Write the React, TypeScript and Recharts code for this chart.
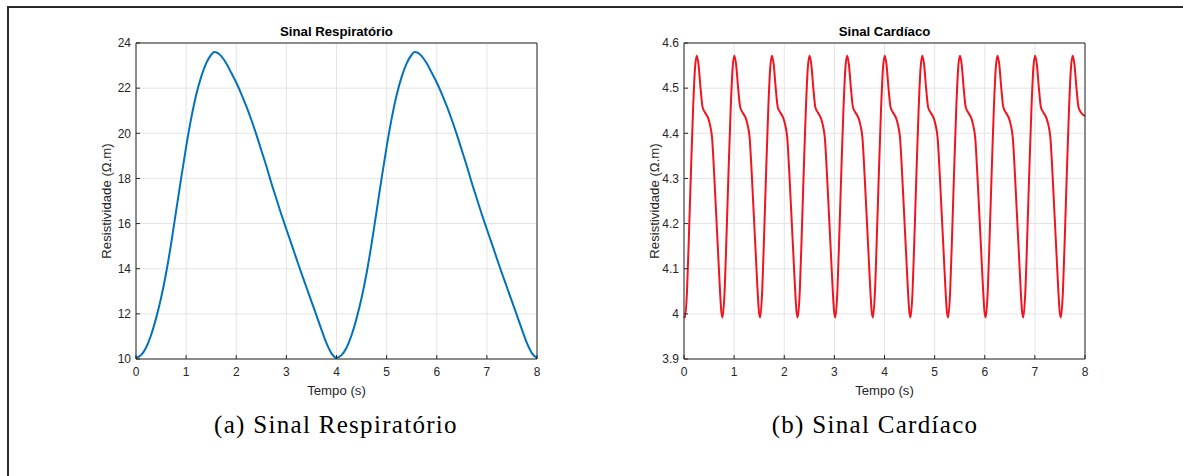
import { LineChart, Line, XAxis, YAxis, CartesianGrid } from 'recharts';

// tick labels
const timeTicks = [0, 1, 2, 3, 4, 5, 6, 7, 8];
const respTicks = [10, 12, 14, 16, 18, 20, 22, 24];
const cardTicks = [3.9, 4, 4.1, 4.2, 4.3, 4.4, 4.5, 4.6];

// respiratory signal (s, Ω.m)
const respTime = [
  0, 0.1, 0.2, 0.3, 0.4, 0.5, 0.6, 0.7, 0.8, 0.9, 1.0, 1.1, 1.2, 1.3, 1.4, 1.5, 1.56,
  1.7, 1.8, 1.9, 2.0, 2.1, 2.2, 2.3, 2.4, 2.5, 2.6, 2.7, 2.8, 2.9, 3.0, 3.1, 3.2, 3.3,
  3.4, 3.5, 3.6, 3.7, 3.8, 3.9,
  4.0, 4.1, 4.2, 4.3, 4.4, 4.5, 4.6, 4.7, 4.8, 4.9, 5.0, 5.1, 5.2, 5.3, 5.4, 5.5, 5.56,
  5.7, 5.8, 5.9, 6.0, 6.1, 6.2, 6.3, 6.4, 6.5, 6.6, 6.7, 6.8, 6.9, 7.0, 7.1, 7.2, 7.3,
  7.4, 7.5, 7.6, 7.7, 7.8, 7.9, 8.0,
];
const respValue = [
  10.05, 10.17, 10.5, 11.05, 11.8, 12.7, 13.8, 15.1, 16.55, 18.0, 19.4, 20.65, 21.7, 22.5, 23.1, 23.48, 23.6,
  23.42, 23.1, 22.68, 22.25, 21.75, 21.2, 20.6, 19.95, 19.25, 18.55, 17.8, 17.1, 16.4, 15.75, 15.1, 14.45, 13.8,
  13.18, 12.55, 11.93, 11.3, 10.7, 10.25,
  10.05, 10.17, 10.5, 11.05, 11.8, 12.7, 13.8, 15.1, 16.55, 18.0, 19.4, 20.65, 21.7, 22.5, 23.1, 23.48, 23.6,
  23.42, 23.1, 22.68, 22.25, 21.75, 21.2, 20.6, 19.95, 19.25, 18.55, 17.8, 17.1, 16.4, 15.75, 15.1, 14.45, 13.8,
  13.18, 12.55, 11.93, 11.3, 10.7, 10.25, 10.05,
];

// cardiac signal (s, Ω.m), one line per beat
const cardiacTime = [
  0,
  0.02, 0.06, 0.10, 0.14, 0.18, 0.22, 0.255, 0.29, 0.33, 0.37, 0.42, 0.48, 0.52, 0.56, 0.60, 0.64, 0.68, 0.72, 0.745,
  0.77, 0.81, 0.85, 0.89, 0.93, 0.97, 1.005, 1.04, 1.08, 1.12, 1.17, 1.23, 1.27, 1.31, 1.35, 1.39, 1.43, 1.47, 1.495,
  1.52, 1.56, 1.60, 1.64, 1.68, 1.72, 1.755, 1.79, 1.83, 1.87, 1.92, 1.98, 2.02, 2.06, 2.10, 2.14, 2.18, 2.22, 2.245,
  2.27, 2.31, 2.35, 2.39, 2.43, 2.47, 2.505, 2.54, 2.58, 2.62, 2.67, 2.73, 2.77, 2.81, 2.85, 2.89, 2.93, 2.97, 2.995,
  3.02, 3.06, 3.10, 3.14, 3.18, 3.22, 3.255, 3.29, 3.33, 3.37, 3.42, 3.48, 3.52, 3.56, 3.60, 3.64, 3.68, 3.72, 3.745,
  3.77, 3.81, 3.85, 3.89, 3.93, 3.97, 4.005, 4.04, 4.08, 4.12, 4.17, 4.23, 4.27, 4.31, 4.35, 4.39, 4.43, 4.47, 4.495,
  4.52, 4.56, 4.60, 4.64, 4.68, 4.72, 4.755, 4.79, 4.83, 4.87, 4.92, 4.98, 5.02, 5.06, 5.10, 5.14, 5.18, 5.22, 5.245,
  5.27, 5.31, 5.35, 5.39, 5.43, 5.47, 5.505, 5.54, 5.58, 5.62, 5.67, 5.73, 5.77, 5.81, 5.85, 5.89, 5.93, 5.97, 5.995,
  6.02, 6.06, 6.10, 6.14, 6.18, 6.22, 6.255, 6.29, 6.33, 6.37, 6.42, 6.48, 6.52, 6.56, 6.60, 6.64, 6.68, 6.72, 6.745,
  6.77, 6.81, 6.85, 6.89, 6.93, 6.97, 7.005, 7.04, 7.08, 7.12, 7.17, 7.23, 7.27, 7.31, 7.35, 7.39, 7.43, 7.47, 7.495,
  7.52, 7.56, 7.60, 7.64, 7.68, 7.72, 7.755, 7.79, 7.83, 7.87, 7.92, 8.0,
];
const cardiacValue = [
  3.995,
  3.992, 4.05, 4.18, 4.32, 4.45, 4.545, 4.572, 4.552, 4.5, 4.458, 4.446, 4.434, 4.418, 4.39, 4.314, 4.225, 4.136, 4.047, 4.005,
  3.992, 4.05, 4.18, 4.32, 4.45, 4.545, 4.572, 4.552, 4.5, 4.458, 4.446, 4.434, 4.418, 4.39, 4.314, 4.225, 4.136, 4.047, 4.005,
  3.992, 4.05, 4.18, 4.32, 4.45, 4.545, 4.572, 4.552, 4.5, 4.458, 4.446, 4.434, 4.418, 4.39, 4.314, 4.225, 4.136, 4.047, 4.005,
  3.992, 4.05, 4.18, 4.32, 4.45, 4.545, 4.572, 4.552, 4.5, 4.458, 4.446, 4.434, 4.418, 4.39, 4.314, 4.225, 4.136, 4.047, 4.005,
  3.992, 4.05, 4.18, 4.32, 4.45, 4.545, 4.572, 4.552, 4.5, 4.458, 4.446, 4.434, 4.418, 4.39, 4.314, 4.225, 4.136, 4.047, 4.005,
  3.992, 4.05, 4.18, 4.32, 4.45, 4.545, 4.572, 4.552, 4.5, 4.458, 4.446, 4.434, 4.418, 4.39, 4.314, 4.225, 4.136, 4.047, 4.005,
  3.992, 4.05, 4.18, 4.32, 4.45, 4.545, 4.572, 4.552, 4.5, 4.458, 4.446, 4.434, 4.418, 4.39, 4.314, 4.225, 4.136, 4.047, 4.005,
  3.992, 4.05, 4.18, 4.32, 4.45, 4.545, 4.572, 4.552, 4.5, 4.458, 4.446, 4.434, 4.418, 4.39, 4.314, 4.225, 4.136, 4.047, 4.005,
  3.992, 4.05, 4.18, 4.32, 4.45, 4.545, 4.572, 4.552, 4.5, 4.458, 4.446, 4.434, 4.418, 4.39, 4.314, 4.225, 4.136, 4.047, 4.005,
  3.992, 4.05, 4.18, 4.32, 4.45, 4.545, 4.572, 4.552, 4.5, 4.458, 4.446, 4.434, 4.418, 4.39, 4.314, 4.225, 4.136, 4.047, 4.005,
  3.992, 4.05, 4.18, 4.32, 4.45, 4.545, 4.572, 4.552, 4.5, 4.458, 4.446, 4.438,
];

const respData = respTime.map((t, i) => ({ t, v: respValue[i] }));
const cardiacData = cardiacTime.map((t, i) => ({ t, v: cardiacValue[i] }));

const AXIS = '#262626';
const GRID = '#e4e4e4';
const SANS = '"Liberation Sans", Arial, Helvetica, sans-serif';
const SERIF = '"Liberation Serif", "Times New Roman", serif';

const fmt = (v: number) => String(Math.round(v * 10) / 10);

function Panel({ left, title, data, color, domain, yTicks }: any) {
  const tickStyle = { fill: AXIS, fontSize: 12, fontFamily: SANS };
  const labelStyle = { fill: AXIS, fontSize: 13.2, fontFamily: SANS };
  return (
    <div style={{ position: 'absolute', left, top: 0, width: 507, height: 400 }}>
      <div
        style={{
          position: 'absolute', left: 96, top: 25, width: 401, textAlign: 'center',
          fontFamily: SANS, fontWeight: 'bold', fontSize: 13.2, lineHeight: '14px', color: '#000',
        }}
      >
        {title}
      </div>
      <LineChart width={507} height={400} data={data} margin={{ top: 42, right: 9, bottom: 1, left: 56 }}>
        <CartesianGrid stroke={GRID} />
        <XAxis
          dataKey="t" type="number" domain={[0, 8]} ticks={timeTicks} height={40}
          tickSize={-4} tickMargin={12} tick={tickStyle}
          axisLine={{ stroke: AXIS }} tickLine={{ stroke: AXIS }}
          label={{ value: 'Tempo (s)', position: 'insideBottom', offset: 4, style: labelStyle }}
        />
        <XAxis
          xAxisId="top" orientation="top" type="number" domain={[0, 8]} ticks={timeTicks} height={1}
          tickSize={-4} tick={false} axisLine={{ stroke: AXIS }} tickLine={{ stroke: AXIS }}
        />
        <YAxis
          type="number" domain={domain} ticks={yTicks} width={40} tickFormatter={fmt}
          tickSize={-4} tickMargin={9} tick={tickStyle}
          axisLine={{ stroke: AXIS }} tickLine={{ stroke: AXIS }}
          label={{
            value: 'Resistividade (Ω.m)', angle: -90, position: 'insideLeft', offset: 10,
            style: { ...labelStyle, textAnchor: 'middle' },
          }}
        />
        <YAxis
          yAxisId="right" orientation="right" type="number" domain={domain} ticks={yTicks} width={1}
          tickSize={-4} tick={false} axisLine={{ stroke: AXIS }} tickLine={{ stroke: AXIS }}
        />
        <Line dataKey="v" type="monotone" stroke={color} strokeWidth={2} dot={false} isAnimationActive={false} />
      </LineChart>
    </div>
  );
}

export default function App() {
  const caption = {
    position: 'absolute' as const, top: 413, fontFamily: SERIF, fontSize: 25, lineHeight: '24px',
    letterSpacing: 1.3, color: '#000', textAlign: 'center' as const, width: 400,
  };
  return (
    <div style={{ position: 'absolute', left: 0, top: 0, width: 1183, height: 476, background: '#fff', overflow: 'hidden' }}>
      <div
        style={{
          position: 'absolute', left: 7, top: 6, width: 1200, height: 500,
          borderTop: '2px solid #2a2a2a', borderLeft: '2px solid #2a2a2a',
        }}
      />
      <Panel left={40} title="Sinal Respiratório" data={respData} color="#0072BD" domain={[10, 24]} yTicks={respTicks} />
      <Panel left={588} title="Sinal Cardíaco" data={cardiacData} color="#f0141e" domain={[3.9, 4.6]} yTicks={cardTicks} />
      <div style={{ ...caption, left: 136 }}>(a) Sinal Respiratório</div>
      <div style={{ ...caption, left: 675 }}>(b) Sinal Cardíaco</div>
    </div>
  );
}
